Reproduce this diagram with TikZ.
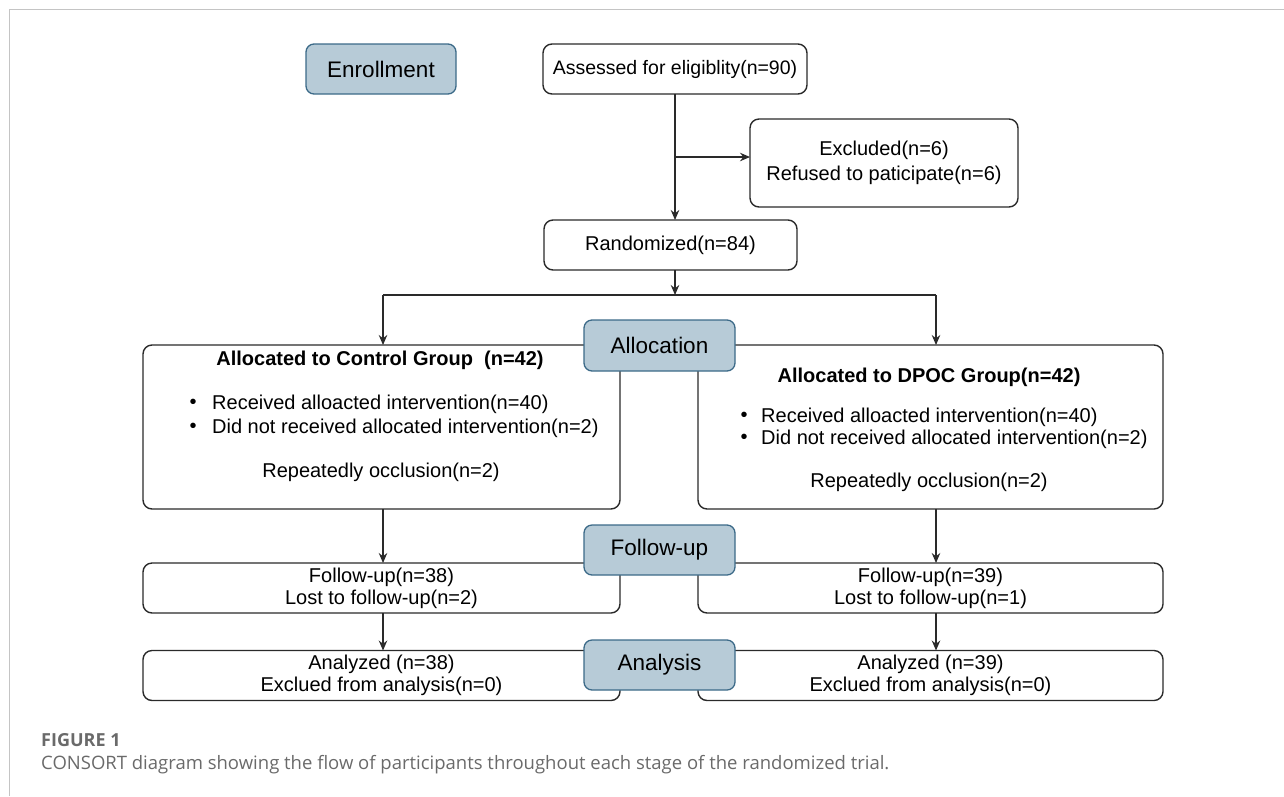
\documentclass[tikz,border=0pt]{standalone}
\usepackage{fontspec}
\setmainfont{Liberation Sans}
\newfontfamily\capfont{Open Sans}
\usetikzlibrary{arrows.meta}
\definecolor{lblfill}{HTML}{B7CBD7}
\definecolor{lbldraw}{HTML}{3C6A88}
\definecolor{framegray}{HTML}{C4C4C4}
\definecolor{capgray}{HTML}{6A6A6A}
\definecolor{linec}{HTML}{2A2A2A}
\begin{document}
\begin{tikzpicture}[x=1pt,y=-1pt,
  box/.style={draw=linec, line width=1.4pt, rounded corners=9pt, fill=white, inner sep=0pt, outer sep=0pt},
  lbl/.style={draw=lbldraw, fill=lblfill, line width=1.3pt, rounded corners=8pt, inner sep=0pt, outer sep=0pt, font=\fontsize{22.5}{26}\selectfont},
  txt/.style={inner sep=0pt, font=\fontsize{20}{24}\selectfont},
  btxt/.style={inner sep=0pt, font=\fontsize{20}{24}\selectfont\bfseries},
  stxt/.style={align=center, font=\fontsize{20}{22}\selectfont},
  arr/.style={draw=linec, -{Stealth[length=10pt,width=8.5pt]}, line width=1.2pt},
  ln/.style={draw=linec, line width=1.2pt}]
\useasboundingbox (0,0) rectangle (1284,796);
% frame
\draw[framegray, line width=1.8pt] (9.5,796) -- (9.5,9.5) -- (1284,9.5);

% enrollment row
\node[lbl, minimum width=150pt, minimum height=50pt] (enr) at (381,69) {Enrollment};
\node[box, minimum width=264pt, minimum height=50pt, font=\fontsize{19.5}{23}\selectfont] (ass) at (675,69) {Assessed for eligiblity(n=90)};
\node[box, minimum width=268pt, minimum height=88pt, align=center, font=\fontsize{20}{25}\selectfont] (exc) at (884,163) {Excluded(n=6)\\Refused to paticipate(n=6)};
\node[box, minimum width=253pt, minimum height=50pt, font=\fontsize{20}{24}\selectfont] (ran) at (670.5,245) {Randomized(n=84)};
\coordinate (br) at (675,157);
\draw[ln] (ass.south -| br) -- (br);
\draw[arr] (br) -- (ran.north -| br);
\draw[arr] (br) -- (exc.west |- br);

% allocation boxes
\node[box, minimum width=477pt, minimum height=164pt] (la) at (381.5,427) {};
\node[box, minimum width=465pt, minimum height=164pt] (ra) at (930.5,427) {};
\node[btxt] (lat) at (380,360) {Allocated to Control Group\ \ (n=42)};
\node[txt] (lb1d) at (193,404) {•};
\node[txt, anchor=west] (lb1) at (212,404) {Received alloacted intervention(n=40)};
\node[txt] (lb2d) at (193,428) {•};
\node[txt, anchor=west] (lb2) at (212,428) {Did not received allocated intervention(n=2)};
\node[txt] (lrep) at (381,472) {Repeatedly occlusion(n=2)};
\node[btxt] (rat) at (929,377) {Allocated to DPOC Group(n=42)};
\node[txt] (rb1d) at (744,417) {•};
\node[txt, anchor=west] (rb1) at (761,417) {Received alloacted intervention(n=40)};
\node[txt] (rb2d) at (744,439) {•};
\node[txt, anchor=west] (rb2) at (761,439) {Did not received allocated intervention(n=2)};
\node[txt] (rrep) at (929,482) {Repeatedly occlusion(n=2)};

\coordinate (sp) at (675,295);
\coordinate (spl) at (383,295);
\coordinate (spr) at (936,295);
\draw[arr] (ran.south -| sp) -- (sp);
\draw[ln] (spl) -- (spr);
\draw[arr] (spl) -- (la.north -| spl);
\draw[arr] (spr) -- (ra.north -| spr);
\node[lbl, minimum width=151pt, minimum height=51pt] (alo) at (659.5,345.5) {Allocation};

% follow-up
\node[box, minimum width=477pt, minimum height=50pt, stxt] (lf) at (381.5,588) {Follow-up(n=38)\\Lost to follow-up(n=2)};
\node[box, minimum width=465pt, minimum height=50pt, stxt] (rf) at (930.5,588) {Follow-up(n=39)\\Lost to follow-up(n=1)};
\draw[arr] (la.south -| spl) -- (lf.north -| spl);
\draw[arr] (ra.south -| spr) -- (rf.north -| spr);
\node[lbl, minimum width=151pt, minimum height=50pt] (fol) at (659.5,550) {Follow-up};

% analysis
\node[box, minimum width=477pt, minimum height=50pt, stxt] (lan) at (381.5,675.5) {Analyzed (n=38)\\Exclued from analysis(n=0)};
\node[box, minimum width=465pt, minimum height=50pt, stxt] (ran2) at (930.5,675.5) {Analyzed (n=39)\\Exclued from analysis(n=0)};
\draw[arr] (lf.south -| spl) -- (lan.north -| spl);
\draw[arr] (rf.south -| spr) -- (ran2.north -| spr);
\node[lbl, minimum width=151pt, minimum height=50pt] (ana) at (659.5,665) {Analysis};

% caption
\node[anchor=west, inner sep=0pt, text=capgray, font=\fontsize{18}{21}\capfont\bfseries] (fig) at (41,740) {FIGURE 1};
\node[anchor=west, inner sep=0pt, text=capgray, font=\fontsize{18.5}{21}\capfont] (cap) at (41,765) {CONSORT diagram showing the flow of participants throughout each stage of the randomized trial.};
\end{tikzpicture}
\end{document}
